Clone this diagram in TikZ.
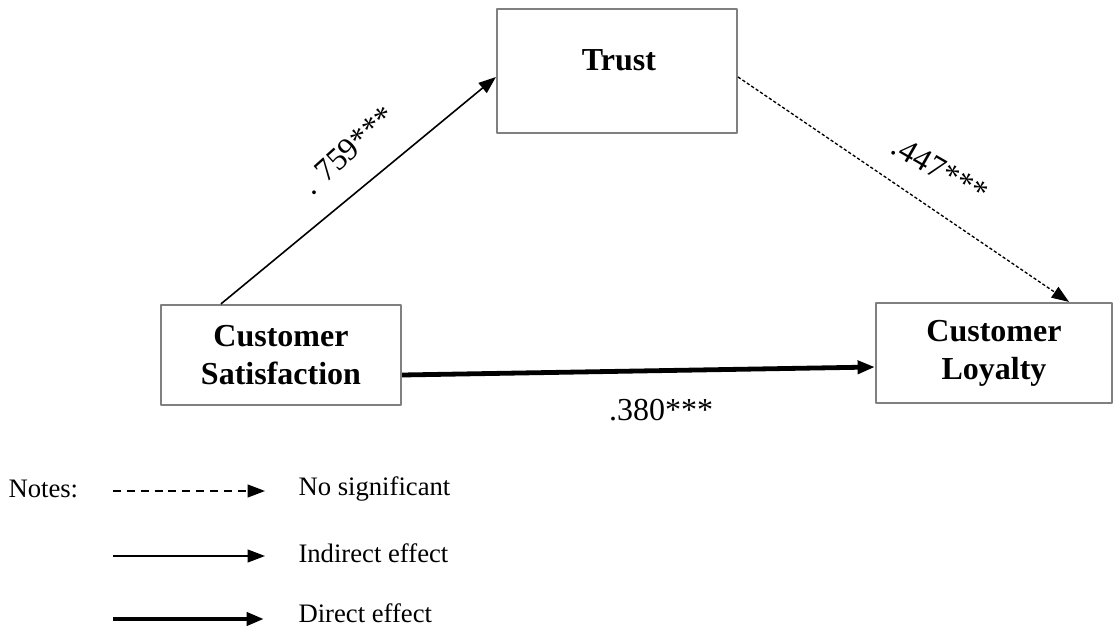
\documentclass[tikz,border=0pt]{standalone}
\usepackage{fontspec}
\setmainfont{Liberation Serif}
\usepackage{tikz}
\usetikzlibrary{arrows.meta}
\usetikzlibrary{positioning}
\usetikzlibrary{calc}

\begin{document}
\begin{tikzpicture}[line join=round,x=0.375pt,y=-0.375pt,>={Triangle[length=6.5pt,width=4.8pt]},
  box/.style={draw=gray,line width=0.8pt,inner sep=0pt},
  boxtext/.style={align=center,font=\fontsize{12}{14.2}\selectfont\bfseries},
  coef/.style={font=\fontsize{12}{14}\selectfont},
  note/.style={font=\fontsize{10}{12}\selectfont,anchor=west,inner sep=0pt},
  indirect/.style={->,line width=0.6pt},
  direct/.style={->,line width=1.8pt},
  nosig/.style={->,line width=0.5pt,dash pattern=on 1.2pt off 0.8pt},
  nosigkey/.style={->,line width=0.6pt,dash pattern=on 3pt off 2.2pt}]
\useasboundingbox (0,0) rectangle (1113,628);
% boxes
\node[box,minimum width=90pt,minimum height=46.5pt] (trust) at (617,71) {};
\node[boxtext] (trusttxt) at (619,60) {Trust};
\node[box,boxtext,minimum width=90pt,minimum height=37.5pt] (satis) at (281,355) {Customer\\Satisfaction};
\node[box,boxtext,minimum width=88.5pt,minimum height=37.5pt] (loyal) at (994,353) {Customer\\Loyalty};
% paths
\draw[indirect] ($(satis.north west)+(61,0)$) -- ($(trust.west)+(0,6)$);
\draw[nosig] ($(trust.east)+(0,6)$) -- ($(loyal.north east)+(-44,0)$);
\draw[direct] ($(satis.east)+(0,20)$) -- ($(loyal.west)+(0,14)$);
\node[coef,rotate=42] (c1) at (348,150) {. 759***};
\node[coef,rotate=-30] (c2) at (940,170) {.447***};
\node[coef] (c3) at (661,410) {.380***};
% legend
\node[note] (notes) at (8,489) {Notes:};
\coordinate (k1a) at (113,491);
\coordinate (k1b) at (265,491);
\coordinate (k2a) at (113,556);
\coordinate (k2b) at (265,556);
\coordinate (k3a) at (113,619);
\coordinate (k3b) at (264,619);
\draw[nosigkey] (k1a) -- (k1b);
\draw[indirect] (k2a) -- (k2b);
\draw[direct] (k3a) -- (k3b);
\node[note] (t1) at (298,489) {No significant};
\node[note] (t2) at (298,553) {Indirect effect};
\node[note] (t3) at (298,613) {Direct effect};
\end{tikzpicture}
\end{document}
